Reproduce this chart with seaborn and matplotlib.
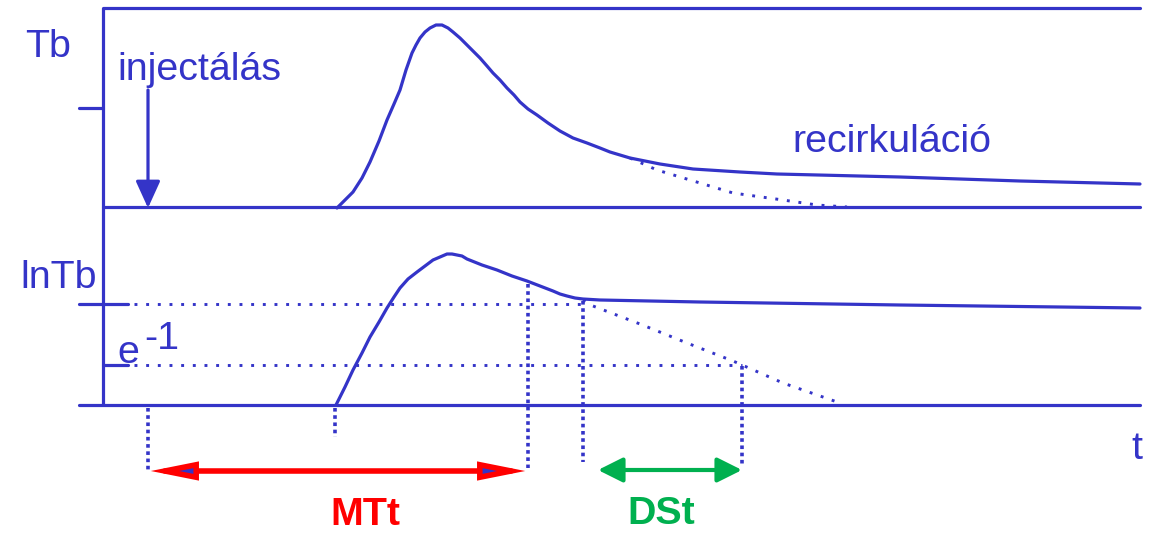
import matplotlib
matplotlib.use("Agg")
import matplotlib.pyplot as plt
from matplotlib import font_manager as fm
from matplotlib.patches import FancyArrowPatch
import seaborn as sns
import pandas as pd

BLUE = "#3434c8"
RED = "#ff0000"
GREEN = "#00b04f"

# ---- data (schematic, pixel-like coordinates) ----
tb_x = [337, 345, 353, 362, 370, 379, 387, 394, 400, 406, 412, 416, 420, 425, 430, 436, 442, 448, 453, 460, 467, 474, 480,
        487, 493, 500, 507, 514, 520, 528, 537, 548, 560, 573, 587, 600, 610, 630, 660, 693, 740, 777, 900, 1020, 1140]
tb_y = [208, 200, 192, 178, 162, 141, 120, 104, 90, 70, 53, 45, 38, 32, 28, 25, 25, 28, 32, 38, 45, 52, 58,
        66, 73, 80, 88, 95, 102, 109, 115, 123, 131, 138, 143, 148, 152, 158, 164, 169, 172, 174, 177, 181, 184]
tb_tail_x = [630, 657, 700, 733, 783, 817, 847]
tb_tail_y = [158, 170, 183, 193, 200, 205, 207]

ln_x = [336, 345, 353, 362, 370, 379, 387, 394, 400, 408, 417, 425, 433, 440, 447, 452, 457, 462, 467, 482, 497, 512, 527,
        540, 553, 560, 567, 575, 583, 600, 700, 900, 1140]
ln_y = [405, 387, 370, 353, 337, 322, 308, 297, 288, 279, 272, 266, 260, 257, 254, 254, 255, 256, 259, 265, 270, 276, 281,
        286, 291, 294, 296, 298, 299, 300, 302, 305, 308]
ln_tail_x = [583, 593, 640, 687, 733, 783, 840]
ln_tail_y = [300, 306, 324, 343, 361, 383, 403]

level_y = [304, 365]          # ln(Tb0) level and e^-1 level
level_end_x = [583, 742]
t_inj, t_start, t_mtt, t_ds0, t_ds1 = 148, 335, 528, 583, 742

labels = ["Tb", "injectálás", "recirkuláció", "lnTb", "e", "-1", "t"]
arrow_labels = ["MTt", "DSt"]


def pick(fams):
    for f in fams:
        try:
            fm.findfont(fm.FontProperties(family=f), fallback_to_default=False)
            return f
        except Exception:
            pass
    return "DejaVu Sans"


FONT = pick(["Liberation Sans Narrow", "Arial Narrow", "Liberation Sans"])
scale = 1.0 if "Narrow" in FONT else 0.86

sns.set_theme(style="white")
plt.rcParams["font.family"] = [FONT, "DejaVu Sans"]

fig = plt.figure(figsize=(11.52, 5.35), dpi=100)
ax = fig.add_axes([0, 0, 1, 1])
ax.set_xlim(0, 1152)
ax.set_ylim(535, 0)
ax.axis("off")

LW = 2.3
# frame / axes lines
ax.plot([103, 103], [8, 405], color=BLUE, lw=LW, solid_capstyle="butt")
ax.plot([103, 1140], [8, 8], color=BLUE, lw=LW)
ax.plot([103, 1140], [207, 207], color=BLUE, lw=LW)
ax.plot([79, 1140], [405, 405], color=BLUE, lw=LW)
ax.plot([79, 103], [108, 108], color=BLUE, lw=LW)
ax.plot([79, 128], [304, 304], color=BLUE, lw=LW)
ax.plot([103, 128], [365, 365], color=BLUE, lw=LW)

# curves
sns.lineplot(x=tb_x, y=tb_y, sort=False, estimator=None, color=BLUE, lw=LW, ax=ax)
sns.lineplot(x=ln_x, y=ln_y, sort=False, estimator=None, color=BLUE, lw=LW, ax=ax)
dots = (0, (1, 3))
ax.plot(tb_tail_x, tb_tail_y, color=BLUE, lw=2.1, ls=dots)
ax.plot(ln_tail_x, ln_tail_y, color=BLUE, lw=2.1, ls=dots)

# dotted guides
for yv, xe in zip(level_y, level_end_x):
    ax.plot([134, xe], [yv, yv], color=BLUE, lw=2.1, ls=dots)
vdots = (0, (1, 1))
VLW = 2.6
ax.plot([t_inj, t_inj], [408, 470], color=BLUE, lw=VLW, ls=vdots)
ax.plot([t_start, t_start], [408, 437], color=BLUE, lw=VLW, ls=vdots)
ax.plot([t_mtt, t_mtt], [284, 468], color=BLUE, lw=VLW, ls=vdots)
ax.plot([t_ds0, t_ds0], [301, 462], color=BLUE, lw=VLW, ls=vdots)
ax.plot([t_ds1, t_ds1], [366, 465], color=BLUE, lw=VLW, ls=vdots)

# injection arrow
ax.add_patch(FancyArrowPatch((t_inj, 90), (t_inj, 208), arrowstyle="-|>,head_length=1.1,head_width=0.5",
                             mutation_scale=15, color=BLUE, lw=LW, shrinkA=0, shrinkB=0))
# MTt arrow
ax.add_patch(FancyArrowPatch((t_inj, 471), (t_mtt, 471), arrowstyle="<|-|>,head_length=1.5,head_width=0.3",
                             mutation_scale=15, facecolor=BLUE, edgecolor=RED, lw=4, shrinkA=2, shrinkB=2,
                             joinstyle="miter"))
# DSt arrow
ax.add_patch(FancyArrowPatch((598, 470), (t_ds1, 470), arrowstyle="<|-|>,head_length=1.0,head_width=0.5",
                             mutation_scale=15, color=GREEN, lw=3, shrinkA=0, shrinkB=0))

fs = 33 * scale
ax.text(25, 57, labels[0], color=BLUE, fontsize=fs, va="baseline", ha="left")
ax.text(117, 80, labels[1], color=BLUE, fontsize=fs, va="baseline", ha="left")
ax.text(792, 152, labels[2], color=BLUE, fontsize=fs, va="baseline", ha="left")
ax.text(20, 288, labels[3], color=BLUE, fontsize=fs, va="baseline", ha="left")
ax.text(117, 363, labels[4], color=BLUE, fontsize=fs, va="baseline", ha="left")
ax.text(144, 349, labels[5], color=BLUE, fontsize=fs, va="baseline", ha="left")
ax.text(1131, 459, labels[6], color=BLUE, fontsize=fs, va="baseline", ha="left")
ax.text(365, 525, arrow_labels[0], color=RED, fontsize=fs, fontweight="bold", va="baseline", ha="center")
ax.text(661, 524, arrow_labels[1], color=GREEN, fontsize=fs, fontweight="bold", va="baseline", ha="center")

fig.savefig("out.png", dpi=100, facecolor="white")
